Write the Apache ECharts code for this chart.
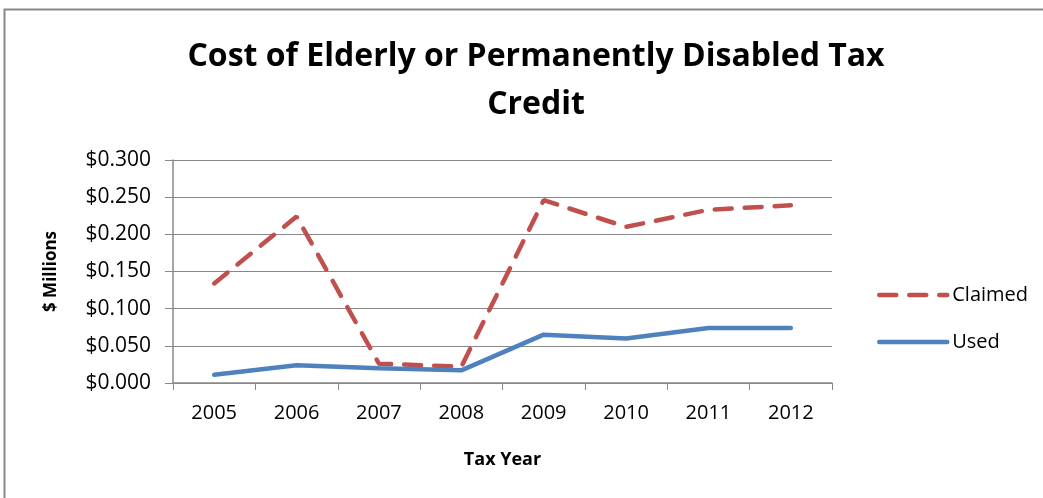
<!DOCTYPE html>
<html><head><meta charset="utf-8">
<script src="https://cdn.jsdelivr.net/npm/echarts@6/dist/echarts.min.js"></script>
<style>html,body{margin:0;padding:0;background:#fff}#c{width:1043px;height:498px}</style>
</head><body><div id="c"></div>
<script>
const years = ['2005','2006','2007','2008','2009','2010','2011','2012'];
const claimed = [0.134, 0.224, 0.026, 0.022, 0.246, 0.210, 0.233, 0.239];
const used = [0.011, 0.024, 0.020, 0.017, 0.065, 0.060, 0.074, 0.074];
const chart = echarts.init(document.getElementById('c'));
const font = '"Open Sans", sans-serif';
chart.setOption({
  animation: false,
  graphic: [{type:'rect', shape:{x:4.5,y:9.5,width:1100,height:600}, style:{fill:'none',stroke:'#888',lineWidth:2}, silent:true}],
  title: {text:'Cost of Elderly or Permanently Disabled Tax\nCredit', left:531, top:28, textAlign:'center',
    textStyle:{fontFamily:font, fontWeight:'bold', fontSize:32, lineHeight:48, color:'#000'}},
  grid: {left:173, right:211, top:160, bottom:115},
  legend: {orient:'vertical', left:872, top:280, itemWidth:68, itemHeight:14, itemGap:27,
    itemStyle:{opacity:0}, lineStyle:{width:4.5},
    textStyle:{fontFamily:font, fontSize:20, color:'#000'}, data:['Claimed','Used']},
  xAxis: {type:'category', data:years, boundaryGap:true, name:'Tax Year', nameLocation:'middle', nameGap:68,
    nameTextStyle:{fontFamily:font, fontWeight:'bold', fontSize:18, color:'#000'},
    axisLine:{lineStyle:{color:'#888', width:1.5}}, axisTick:{show:true, length:7, lineStyle:{color:'#888'}},
    axisLabel:{fontFamily:font, fontSize:20, color:'#000', margin:20}},
  yAxis: {type:'value', min:0, max:0.3, interval:0.05, name:'$ Millions', nameLocation:'middle', nameGap:113,
    nameTextStyle:{fontFamily:font, fontWeight:'bold', fontSize:17, color:'#000'},
    axisLine:{show:true, lineStyle:{color:'#888', width:1.5}}, axisTick:{show:true, length:8, lineStyle:{color:'#888'}},
    splitLine:{lineStyle:{color:'#888', width:1.2}},
    axisLabel:{fontFamily:font, fontSize:21, color:'#000', margin:22, formatter:v=>'$'+v.toFixed(3)}},
  series: [
    {name:'Claimed', type:'line', data:claimed, symbol:'none', color:'#C0504D',
      lineStyle:{width:4.5, type:[17,13], cap:'round', color:'#C0504D'}},
    {name:'Used', type:'line', data:used, symbol:'none', color:'#4F81BD',
      lineStyle:{width:4.5, cap:'round', color:'#4F81BD'}}
  ]
});
</script></body></html>
